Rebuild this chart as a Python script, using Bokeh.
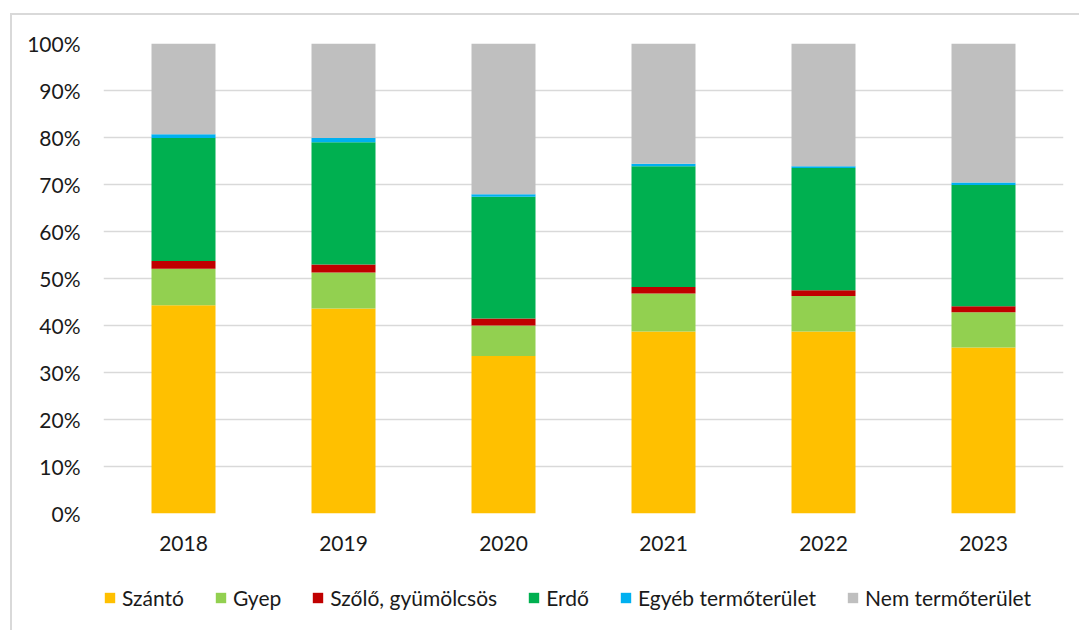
from bokeh.plotting import figure
from bokeh.models import ColumnDataSource, FactorRange, Legend, LegendItem, NumeralTickFormatter, FixedTicker, Range1d
from bokeh.layouts import column
from bokeh.embed import file_html
from bokeh.resources import INLINE

years = ["2018", "2019", "2020", "2021", "2022", "2023"]
szanto = [44.3, 43.6, 33.5, 38.7, 38.7, 35.3]
gyep = [7.8, 7.7, 6.5, 8.1, 7.6, 7.5]
szolo = [1.6, 1.7, 1.5, 1.4, 1.2, 1.3]
erdo = [26.2, 26.0, 25.9, 25.7, 26.0, 25.8]
egyeb = [0.8, 0.9, 0.5, 0.5, 0.4, 0.5]
nem = [19.3, 20.1, 32.1, 25.6, 26.1, 29.6]

series_names = ["Szántó", "Gyep", "Szőlő, gyümölcsös", "Erdő", "Egyéb termőterület", "Nem termőterület"]
series_values = [szanto, gyep, szolo, erdo, egyeb, nem]
colors = ["#FFC000", "#92D050", "#C00000", "#00B050", "#00B0F0", "#BFBFBF"]
y_ticks = [0.0, 0.1, 0.2, 0.3, 0.4, 0.5, 0.6, 0.7, 0.8, 0.9, 1.0]

keys = ["s%d" % i for i in range(len(series_names))]
data = {"year": years}
for k, vals in zip(keys, series_values):
    data[k] = [v / 100.0 for v in vals]
# normalize each year to 100%
for i in range(len(years)):
    t = sum(data[k][i] for k in keys)
    for k in keys:
        data[k][i] = data[k][i] / t
src = ColumnDataSource(data)

FONT = "Lato"
FS = "21px"
p = figure(x_range=FactorRange(*years), y_range=Range1d(0, 1),
           width=1067, height=550, output_backend="svg", toolbar_location=None,
           min_border_left=91, min_border_right=16, min_border_top=28, min_border_bottom=52)
p.outline_line_color = None
p.background_fill_color = "white"
p.border_fill_color = "white"

renderers = p.vbar_stack(keys, x="year", width=0.4, color=colors, source=src, line_color=None)

p.yaxis.ticker = FixedTicker(ticks=y_ticks)
p.yaxis.formatter = NumeralTickFormatter(format="0%")
p.ygrid.ticker = FixedTicker(ticks=y_ticks)
p.ygrid.grid_line_color = "#d9d9d9"
p.ygrid.grid_line_width = 1.5
p.xgrid.grid_line_color = None
for ax in (p.xaxis, p.yaxis):
    ax.axis_line_color = None
    ax.major_tick_line_color = None
    ax.minor_tick_line_color = None
    ax.major_label_text_font = FONT
    ax.major_label_text_font_size = FS
    ax.major_label_text_color = "#1a1a1a"
p.yaxis.major_label_standoff = 17
p.xaxis.major_label_standoff = 16
p.x_range.range_padding = 0
p.x_range.group_padding = 0

# legend-only strip below the chart (bars kept out of view; used only for legend swatches)
q = figure(width=1067, height=65, output_backend="svg", toolbar_location=None,
           x_range=FactorRange(*years), y_range=Range1d(5, 6),
           min_border_left=91, min_border_right=16, min_border_top=0, min_border_bottom=0)
q.axis.visible = False
q.grid.visible = False
q.outline_line_color = None
q.border_fill_color = "white"
q.background_fill_color = "white"
leg_renderers = q.vbar_stack(keys, x="year", width=0.4, color=colors, source=src, line_color=None)
items = [LegendItem(label=n, renderers=[r]) for n, r in zip(series_names, leg_renderers)]
legend = Legend(items=items, orientation="horizontal", location=(0, 20),
                label_text_font=FONT, label_text_font_size=FS, label_text_color="#1a1a1a",
                glyph_width=13, glyph_height=13, label_standoff=6, spacing=30,
                padding=0, margin=0, border_line_color=None, background_fill_alpha=0)
q.add_layout(legend, "center")

layout = column(p, q, spacing=0)
layout.styles = {"margin-left": "10px", "margin-top": "13px",
                 "border-left": "2px solid #d9d9d9", "border-top": "2px solid #d9d9d9",
                 "background-color": "white"}

open("out.html", "w").write(file_html(layout, INLINE))
